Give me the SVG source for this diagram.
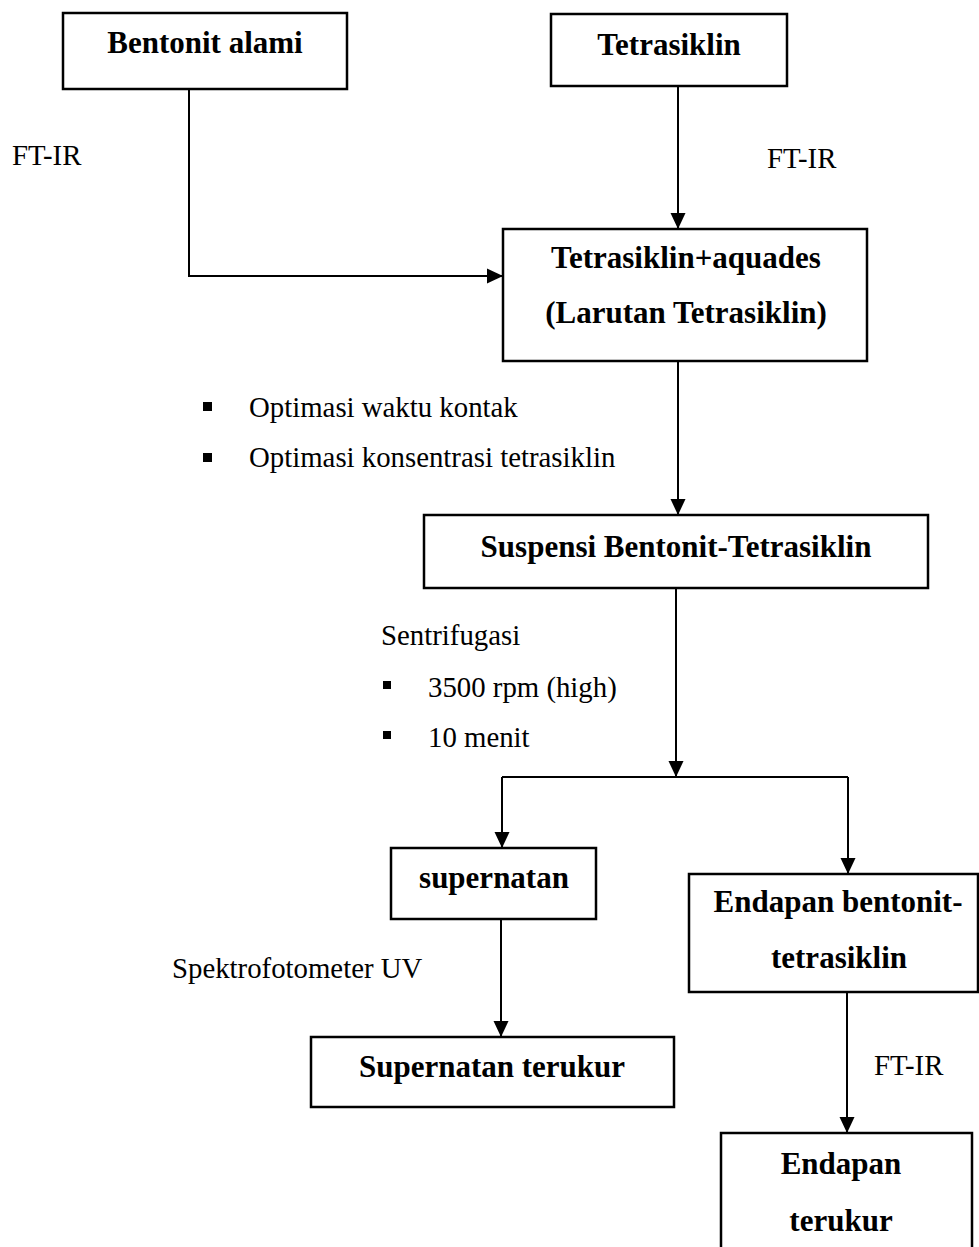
<svg xmlns="http://www.w3.org/2000/svg" width="979" height="1247" viewBox="0 0 979 1247">
<style>
.box{fill:#fff;stroke:#000;stroke-width:2.5}
.b{font-family:"Liberation Serif","Times New Roman",serif;font-weight:bold;font-size:31px;fill:#000;text-anchor:middle}
.r{font-family:"Liberation Serif","Times New Roman",serif;font-size:28.8px;fill:#000}
.ln{fill:none;stroke:#000;stroke-width:2}
.bul{fill:#000}
</style>
<defs>
<marker id="ah" markerUnits="userSpaceOnUse" markerWidth="16" markerHeight="16" viewBox="0 0 16 16" refX="16" refY="8" orient="auto">
<path d="M0,0.5 L16,8 L0,15.5 Z" fill="#000"/>
</marker>
</defs>
<rect width="979" height="1247" fill="#fff"/>
<g id="connectors">
<path class="ln" d="M189,89 V276 H503" marker-end="url(#ah)"/>
<path class="ln" d="M678,86 V229" marker-end="url(#ah)"/>
<path class="ln" d="M678,361 V515" marker-end="url(#ah)"/>
<path class="ln" d="M676,588 V777" marker-end="url(#ah)"/>
<path class="ln" d="M502,777 H848"/>
<path class="ln" d="M502,777 V848" marker-end="url(#ah)"/>
<path class="ln" d="M848,777 V874" marker-end="url(#ah)"/>
<path class="ln" d="M501,919 V1037" marker-end="url(#ah)"/>
<path class="ln" d="M847,992 V1133" marker-end="url(#ah)"/>
</g>
<g id="n-bentonit">
<rect class="box" x="63" y="13" width="284" height="76"/>
<text class="b" x="205" y="53">Bentonit alami</text>
</g>
<g id="n-tetrasiklin">
<rect class="box" x="551" y="14" width="236" height="72"/>
<text class="b" x="669" y="55">Tetrasiklin</text>
</g>
<g id="n-larutan">
<rect class="box" x="503" y="229" width="364" height="132"/>
<text class="b" x="686" y="268">Tetrasiklin+aquades</text>
<text class="b" x="686" y="323">(Larutan Tetrasiklin)</text>
</g>
<g id="n-suspensi">
<rect class="box" x="424" y="515" width="504" height="73"/>
<text class="b" x="676" y="557">Suspensi Bentonit-Tetrasiklin</text>
</g>
<g id="n-supernatan">
<rect class="box" x="391" y="848" width="205" height="71"/>
<text class="b" x="494" y="888">supernatan</text>
</g>
<g id="n-supernatan-terukur">
<rect class="box" x="311" y="1037" width="363" height="70"/>
<text class="b" x="492" y="1077">Supernatan terukur</text>
</g>
<g id="n-endapan">
<rect class="box" x="689" y="874" width="289" height="118"/>
<text class="b" x="838" y="912">Endapan bentonit-</text>
<text class="b" x="839" y="968">tetrasiklin</text>
</g>
<g id="n-endapan-terukur">
<rect class="box" x="721" y="1133" width="251" height="140"/>
<text class="b" x="841" y="1174">Endapan</text>
<text class="b" x="841" y="1231">terukur</text>
</g>
<g id="labels">
<text class="r" x="12" y="165">FT-IR</text>
<text class="r" x="767" y="168">FT-IR</text>
<rect class="bul" x="203" y="402" width="9" height="9"/>
<text class="r" x="249" y="417">Optimasi waktu kontak</text>
<rect class="bul" x="203" y="453" width="9" height="9"/>
<text class="r" x="249" y="467">Optimasi konsentrasi tetrasiklin</text>
<text class="r" x="381" y="645">Sentrifugasi</text>
<rect class="bul" x="383" y="681" width="8" height="8"/>
<text class="r" x="428" y="697">3500 rpm (high)</text>
<rect class="bul" x="383" y="731" width="8" height="8"/>
<text class="r" x="428" y="747">10 menit</text>
<text class="r" x="172" y="978">Spektrofotometer UV</text>
<text class="r" x="874" y="1075">FT-IR</text>
</g>
</svg>
